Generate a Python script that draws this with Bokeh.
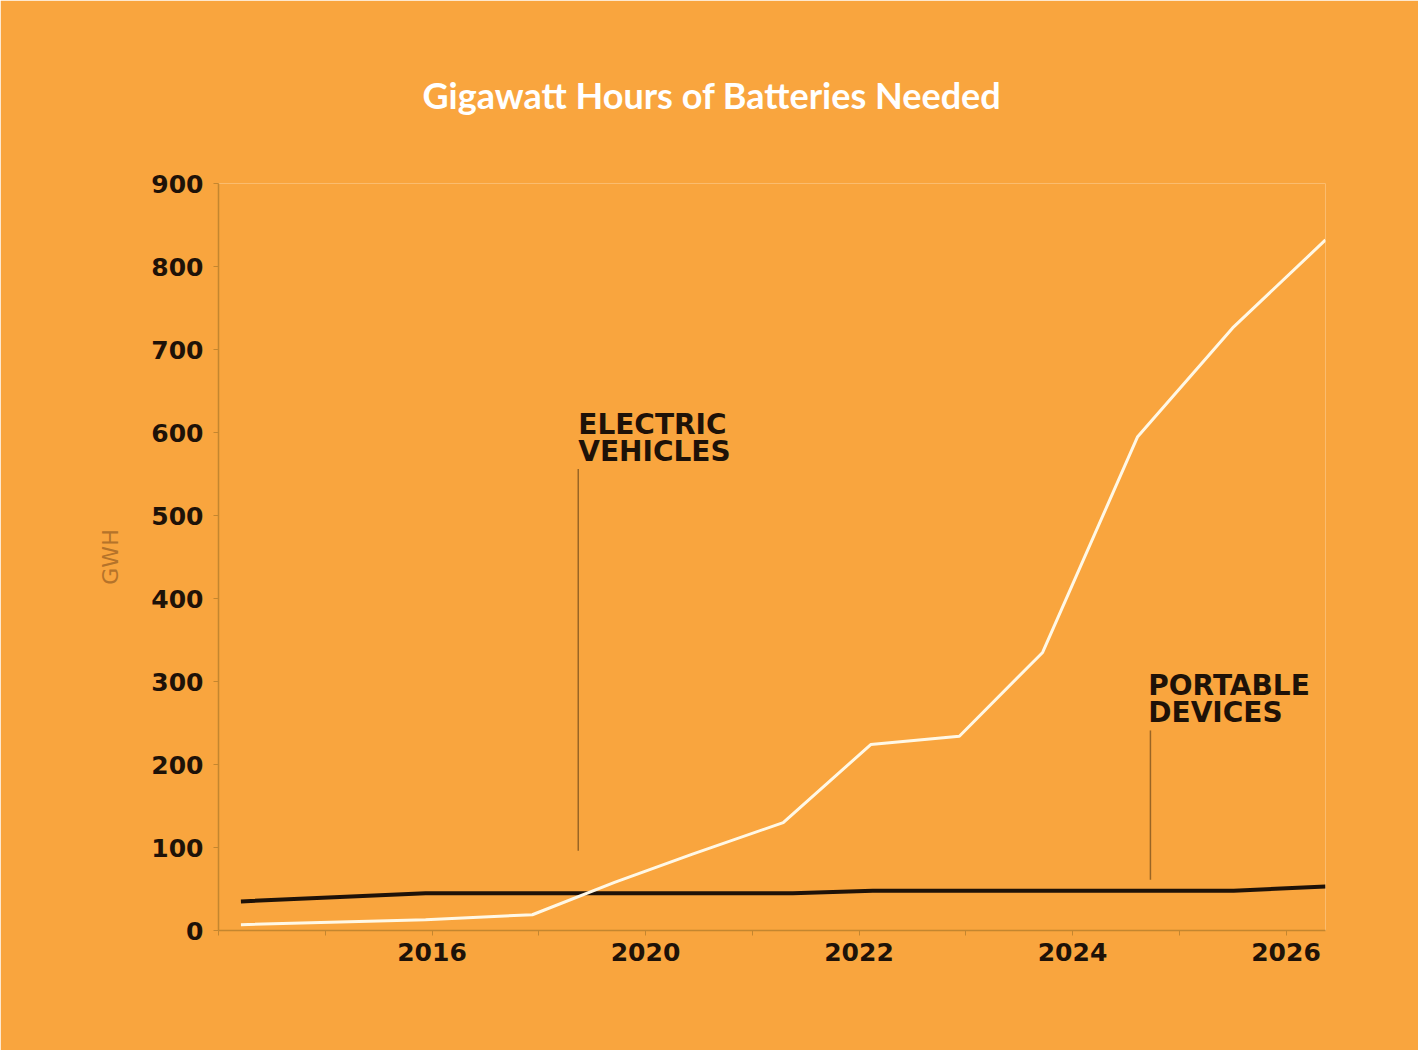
from bokeh.plotting import figure
from bokeh.models import Range1d, FixedTicker
from bokeh.core.properties import value
from bokeh.embed import file_html
from bokeh.resources import INLINE

# ---------------- data ----------------
title_text = "Gigawatt Hours of Batteries Needed"
y_label = "GWH"

# x positions are in axis units: a tick at every unit, a label at every second unit
ev_x = [0.21, 1.94, 2.94, 3.71, 4.44, 5.29, 6.11, 6.94, 7.72, 8.61, 9.50, 10.37]
ev_gwh = [7, 13, 19, 58, 92, 130, 224, 234, 335, 595, 726, 832]

pd_x = [0.21, 1.94, 5.38, 6.13, 9.51, 10.37]
pd_gwh = [35, 45, 45, 48, 48, 53]

x_tick_pos = [2, 4, 6, 8, 10]
x_tick_labels = ["2016", "2020", "2022", "2024", "2026"]
x_minor_pos = [0, 1, 3, 5, 7, 9]
y_ticks = [0, 100, 200, 300, 400, 500, 600, 700, 800, 900]

ev_name = "ELECTRIC\nVEHICLES"
pd_name = "PORTABLE\nDEVICES"
ev_label_at = (3.37, 630)
ev_leader = (3.37, 556, 96)
pd_label_at = (8.71, 315)
pd_leader = (8.73, 241, 61)

# ---------------- style ----------------
BG = "#F9A53E"
AXIS = "#C4862F"
DARK = "#1E1208"
WHITE = "#FFF8E6"
LEADER = "#9A6524"

p = figure(width=1418, height=1050, output_backend="svg", toolbar_location=None,
           x_range=Range1d(0, 10.37), y_range=Range1d(0, 900),
           min_border_left=218, min_border_right=93, min_border_top=183,
           min_border_bottom=120)

p.background_fill_color = BG
p.border_fill_color = BG
p.outline_line_color = None
p.grid.visible = False

p.title.text = title_text
p.title.align = "left"
p.title.offset = 204
p.title.text_font = "Lato"
p.title.text_font_style = "bold"
p.title.text_font_size = "36px"
p.title.text_color = "white"
p.title.standoff = 133

# lines
p.line(pd_x, pd_gwh, line_color=DARK, line_width=4)
p.line(ev_x, ev_gwh, line_color=WHITE, line_width=3)

# leader lines
p.segment(x0=[ev_leader[0], pd_leader[0]], y0=[ev_leader[1], pd_leader[1]],
          x1=[ev_leader[0], pd_leader[0]], y1=[ev_leader[2], pd_leader[2]],
          line_color=LEADER, line_width=1.5)

# series labels
p.text(x=[ev_label_at[0], pd_label_at[0]], y=[ev_label_at[1], pd_label_at[1]],
       text=[ev_name, pd_name], text_font=value("DejaVu Sans"),
       text_font_style="bold", text_font_size="28px", text_color=DARK,
       text_align="left", text_baseline="top", text_line_height=0.82)

# axes
for ax in (p.xaxis[0], p.yaxis[0]):
    ax.axis_line_color = AXIS
    ax.axis_line_width = 1.5
    ax.major_tick_line_color = AXIS
    ax.minor_tick_line_color = AXIS
    ax.major_tick_in = 0
    ax.major_tick_out = 5
    ax.minor_tick_in = 0
    ax.major_label_text_font = "DejaVu Sans"
    ax.major_label_text_font_style = "bold"
    ax.major_label_text_font_size = "25px"
    ax.major_label_text_color = DARK

p.xaxis[0].ticker = FixedTicker(ticks=x_tick_pos, minor_ticks=x_minor_pos)
p.xaxis[0].major_label_overrides = {t: l for t, l in zip(x_tick_pos, x_tick_labels)}
p.xaxis[0].minor_tick_out = 5
p.xaxis[0].major_label_standoff = 7

p.yaxis[0].ticker = FixedTicker(ticks=y_ticks, minor_ticks=[])
p.yaxis[0].minor_tick_out = 0
p.yaxis[0].major_label_standoff = 10
p.yaxis[0].axis_label = y_label
p.yaxis[0].axis_label_text_font = "DejaVu Sans"
p.yaxis[0].axis_label_text_font_style = "normal"
p.yaxis[0].axis_label_text_font_size = "22px"
p.yaxis[0].axis_label_text_color = "#B5732A"
p.yaxis[0].axis_label_standoff = 25

open("out.html", "w").write(file_html(p, INLINE))
